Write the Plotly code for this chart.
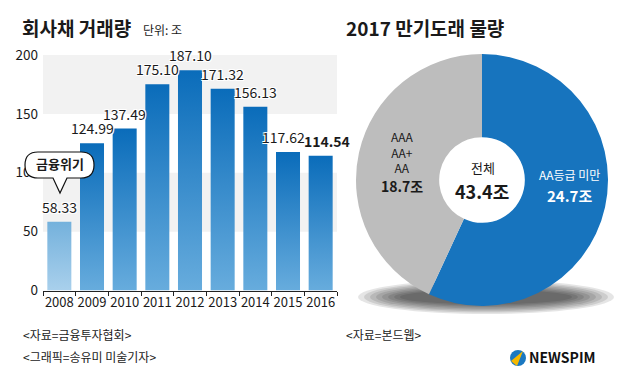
import plotly.graph_objects as go

# ---- data ----
years = ["2008", "2009", "2010", "2011", "2012", "2013", "2014", "2015", "2016"]
volumes = [58.33, 124.99, 137.49, 175.10, 187.10, 171.32, 156.13, 117.62, 114.54]
y_ticks = [0, 50, 100, 150, 200]

pie_labels = ["AA등급 미만", "AAA/AA+/AA"]
pie_values = [24.7, 18.7]
pie_total = 43.4

W, H = 624, 380
FONT = "Noto Sans CJK KR"
OFF = 8  # page body margin offset compensation


def px(x):
    return (x - OFF) / W


def py(y):
    return 1 - (y - OFF) / H


fig = go.Figure()

# ---- bars (gradient-filled rectangles built from data) ----
bw = 0.735
for i, (yr, v) in enumerate(zip(years, volumes)):
    if i == 0:
        cs = [[0, "#a9d0ec"], [1, "#74b1dc"]]
    else:
        cs = [[0, "#67acdd"], [1, "#0a6cba"]]
    fig.add_trace(go.Scatter(
        x=[i - bw / 2, i + bw / 2, i + bw / 2, i - bw / 2, i - bw / 2],
        y=[0, 0, v, v, 0],
        mode="lines", line=dict(width=0), fill="toself",
        fillcolor="#3a8fd0",
        fillgradient=dict(type="vertical", colorscale=cs),
        hoverinfo="skip", showlegend=False,
        xaxis="x", yaxis="y",
    ))

# value labels (small horizontal nudges for the last two, as in the source)
label_xshift = {7: -5, 8: 6}
for i, v in enumerate(volumes):
    fig.add_annotation(
        x=i, y=v, xref="x", yref="y", text=f"{v:.2f}", showarrow=False,
        yanchor="bottom", yshift=3, xshift=label_xshift.get(i, 0),
        font=dict(family=FONT, size=14, color="#1a1a1a",
                  weight="bold" if i == len(volumes) - 1 else "normal",
                  shadow="1px 1px 0 #fff, -1px -1px 0 #fff, 1px -1px 0 #fff, -1px 1px 0 #fff"),
    )

# background bands
for lo, hi in [(50, 100), (150, 200)]:
    fig.add_shape(type="rect", xref="x domain", yref="y", x0=0, x1=1, y0=lo, y1=hi,
                  fillcolor="#f2f2f2", line=dict(width=0), layer="below")

# ---- pie ----
fig.add_trace(go.Pie(
    labels=pie_labels, values=pie_values, sort=False, direction="clockwise",
    rotation=0, hole=0.34,
    marker=dict(colors=["#1774be", "#bdbdbd"], line=dict(width=0)),
    textinfo="none", hoverinfo="label+value", showlegend=False,
    domain=dict(x=[px(482 - 126), px(482 + 126)], y=[py(180 + 126), py(180 - 126)]),
))

# pie shadow (stacked translucent ellipses)
for k in range(8):
    rx = 128 - k * 6
    ry = 17 - k * 1.4
    cx, cy = 486, 297
    fig.add_shape(type="circle", xref="paper", yref="paper",
                  x0=px(cx - rx), x1=px(cx + rx), y0=py(cy + ry), y1=py(cy - ry),
                  fillcolor="rgba(0,0,0,0.1)", line=dict(width=0), layer="below")

# ---- layout ----
fig.update_layout(
    width=W, height=H, autosize=False,
    margin=dict(l=0, r=0, t=0, b=0, pad=0, autoexpand=False),
    paper_bgcolor="white", plot_bgcolor="white",
    font=dict(family=FONT, color="#1a1a1a"),
    showlegend=False,
    xaxis=dict(
        domain=[px(43), px(337)], range=[-0.5, 8.5], automargin=False,
        tickvals=list(range(len(years))), ticktext=years,
        ticks="", showgrid=False, zeroline=False,
        showline=True, linecolor="#222", linewidth=1.2,
        tickfont=dict(size=13, color="#1a1a1a"),
        minor=dict(tickvals=[i - 0.5 for i in range(len(years) + 1)],
                   ticks="outside", ticklen=4, tickcolor="#222", tickwidth=1),
        fixedrange=True,
    ),
    yaxis=dict(
        domain=[py(290.5), py(55)], range=[0, 200], automargin=False,
        tickvals=y_ticks, ticktext=[str(t) for t in y_ticks],
        showgrid=False, zeroline=False, showline=False, ticks="",
        tickfont=dict(size=13.5, color="#1a1a1a"), ticklabelstandoff=4,
        fixedrange=True,
    ),
)

# speech bubble
bub = ("M {a},{t} L {b},{t} Q {r},{t} {r},{m} Q {r},{bt} {b},{bt} "
       "L {t2},{bt} L {tip_x},{tip_y} L {t1},{bt} L {a},{bt} Q {l},{bt} {l},{m} Q {l},{t} {a},{t} Z")
l, r, t, bt = 25, 94, 152, 178
path = bub.format(a=px(l + 13), b=px(r - 13), t=py(t), r=px(r), m=py((t + bt) / 2), bt=py(bt),
                  l=px(l), t1=px(53), t2=px(67), tip_x=px(60), tip_y=py(193))
fig.add_shape(type="path", xref="paper", yref="paper", path=path,
              fillcolor="white", line=dict(color="#111", width=1.2), layer="above")


def txt(x, y, s, size, bold=False, color="#1a1a1a", xanchor="center"):
    fig.add_annotation(x=px(x), y=py(y - 1), xref="paper", yref="paper", text=s,
                       showarrow=False, xanchor=xanchor, yanchor="middle",
                       font=dict(family=FONT, size=size, color=color,
                                 weight="bold" if bold else "normal"))


txt(60, 165, "금융위기", 13, bold=True)

# titles
txt(20, 28, "회사채 거래량", 19, bold=True, xanchor="left")
txt(141, 31, "단위: 조", 12, xanchor="left")
txt(344, 28, "2017 만기도래 물량", 19, bold=True, xanchor="left")

# pie labels
txt(402, 153, "AAA<br>AA+<br>AA", 12)
txt(402, 187, "18.7조", 14, bold=True)
txt(483, 168, "전체", 13)
txt(482, 192, f"{pie_total}조", 18, bold=True)
txt(569, 175, "AA등급 미만", 12, color="white")
txt(569, 196, "24.7조", 15, bold=True, color="white")

# footer
txt(21, 335, "&lt;자료=금융투자협회&gt;", 12, xanchor="left")
txt(21, 357, "&lt;그래픽=송유미 미술기자&gt;", 12, xanchor="left")
txt(344, 335, "&lt;자료=본드웹&gt;", 12, xanchor="left")

# logo
fig.add_shape(type="circle", xref="paper", yref="paper",
              x0=px(510), x1=px(526), y0=py(366), y1=py(350),
              fillcolor="#1a78c1", line=dict(width=0), layer="above")
fig.add_shape(type="path", xref="paper", yref="paper",
              path=f"M {px(511)},{py(361)} L {px(523)},{py(351)} L {px(517)},{py(366)} Z",
              fillcolor="#f5b800", line=dict(width=0), layer="above")
txt(527, 358, "NEWSPIM", 14, bold=True, color="#111", xanchor="left")

fig.write_html("out.html")
